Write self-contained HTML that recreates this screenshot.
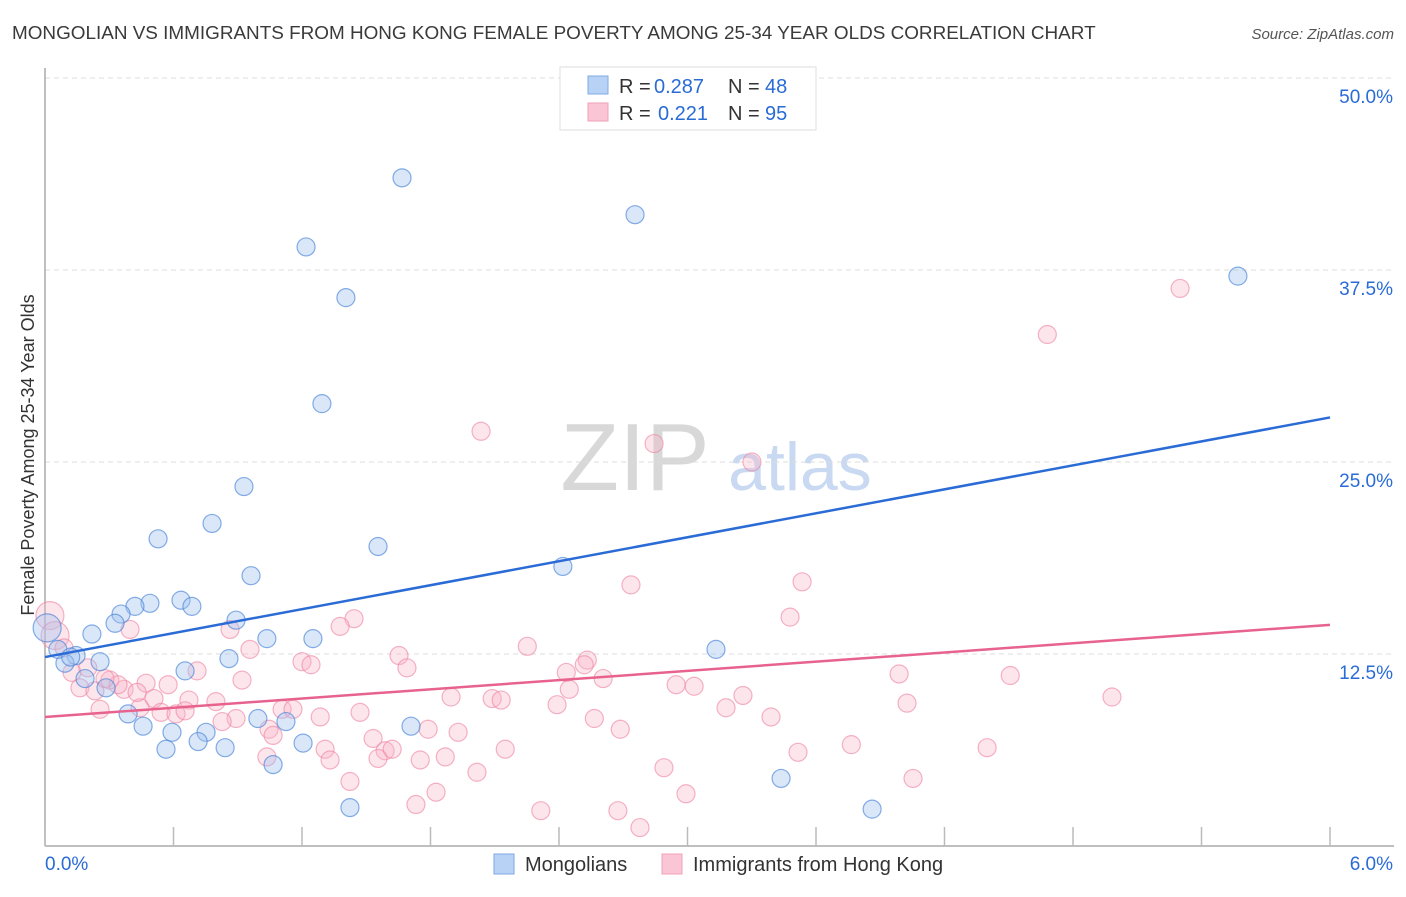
<!DOCTYPE html>
<html><head><meta charset="utf-8"><style>
body{margin:0;background:#fff;font-family:"Liberation Sans",sans-serif;}
svg text{font-family:"Liberation Sans",sans-serif;}
</style></head><body>
<svg id="chart" width="1406" height="892" xmlns="http://www.w3.org/2000/svg">
<text x="12" y="39" font-size="18.9" fill="#3a3a3a">MONGOLIAN VS IMMIGRANTS FROM HONG KONG FEMALE POVERTY AMONG 25-34 YEAR OLDS CORRELATION CHART</text>
<text x="1394" y="39" font-size="15" fill="#555" text-anchor="end" font-style="italic">Source: ZipAtlas.com</text>
<g>
<text x="635" y="490" font-size="96" fill="#d8d8d8" text-anchor="middle" font-family="Liberation Serif">ZIP</text>
<text x="800" y="490" font-size="68" fill="#c9d9f2" text-anchor="middle">atlas</text>
</g>
<g id="grid"></g>
<g id="axes"></g>
<text transform="translate(34,455) rotate(-90)" font-size="18" fill="#333" text-anchor="middle">Female Poverty Among 25-34 Year Olds</text>
<g id="pts"></g>
<g id="lines"></g>
<g>
<rect x="560" y="67" width="256" height="63" fill="#fff" stroke="#ddd"/>
<rect x="588" y="76" width="20" height="18" fill="#b8d2f5" stroke="#7fa9e0"/>
<rect x="588" y="103" width="20" height="18" fill="#fac6d5" stroke="#f0a0b8"/>
<text x="619" y="93" font-size="20" fill="#333">R =</text>
<text x="654" y="93" font-size="20" fill="#2a6bd6">0.287</text>
<text x="728" y="93" font-size="20" fill="#333">N =</text>
<text x="765" y="93" font-size="20" fill="#2a6bd6">48</text>
<text x="619" y="120" font-size="20" fill="#333">R =</text>
<text x="658" y="120" font-size="20" fill="#2a6bd6">0.221</text>
<text x="728" y="120" font-size="20" fill="#333">N =</text>
<text x="765" y="120" font-size="20" fill="#2a6bd6">95</text>
</g>
<g>
<rect x="494" y="854" width="20" height="20" fill="#b8d2f5" stroke="#7fa9e0"/>
<text x="525" y="871" font-size="20" fill="#333">Mongolians</text>
<rect x="662" y="854" width="20" height="20" fill="#fac6d5" stroke="#f0a0b8"/>
<text x="693" y="871" font-size="20" fill="#333">Immigrants from Hong Kong</text>
</g>
</svg>
<script>
const blueX=[1.667,2.755,1.219,1.405,5.57,1.293,0.929,0.780,0.528,1.555,2.418,0.962,0.490,0.635,0.686,0.420,0.355,0.327,0.892,0.219,1.036,1.251,3.133,0.859,0.145,0.257,0.093,0.654,0.187,0.285,0.388,0.458,0.593,0.752,0.994,1.125,1.709,0.715,0.841,0.565,1.205,1.065,3.437,1.424,3.862,0.01,0.06,0.12];
const blueY=[43.5,41.1,39.0,35.7,37.1,28.8,23.4,21.0,20.0,19.5,18.2,17.6,15.8,16.0,15.6,15.6,15.1,14.5,14.7,13.8,13.5,13.5,12.8,12.2,12.4,12.0,11.9,11.4,10.9,10.3,8.6,7.8,7.4,7.4,8.3,8.1,7.8,6.8,6.4,6.3,6.7,5.3,4.4,2.5,2.4,14.2,12.8,12.3];
const pinkX=[5.30,4.68,2.036,2.844,3.301,2.736,3.535,3.479,1.443,1.378,0.864,0.397,2.252,1.653,2.532,2.518,1.690,1.200,1.242,2.434,0.957,0.710,3.988,4.507,0.920,0.472,0.575,0.303,0.126,0.163,0.233,0.369,0.341,2.606,2.947,3.031,2.448,1.896,2.088,2.130,0.672,0.509,0.798,3.259,2.391,3.180,4.025,4.982,0.257,0.444,0.542,0.612,0.654,1.107,1.158,0.892,0.827,1.285,1.471,2.565,3.390,1.046,1.065,1.789,1.929,2.686,1.532,1.308,1.588,1.621,2.149,3.765,4.399,3.516,1.036,1.331,1.555,1.752,1.869,2.017,2.890,1.424,4.053,1.826,2.993,1.732,2.315,2.675,2.778,0.023,0.047,0.089,0.20,0.28,0.43];
const pinkY=[36.3,33.3,27.0,26.2,25.0,17.0,17.2,14.9,14.8,14.3,14.1,14.1,13.0,12.4,12.1,11.8,11.6,12.0,11.8,11.3,12.8,11.4,11.2,11.1,10.8,10.6,10.5,10.8,11.3,10.3,10.1,10.2,10.5,10.9,10.5,10.4,10.2,9.7,9.6,9.5,9.5,9.6,9.4,9.8,9.2,9.0,9.3,9.7,8.9,9.0,8.7,8.6,8.8,8.9,8.9,8.3,8.1,8.4,8.7,8.3,8.4,7.6,7.2,7.6,7.4,7.6,7.0,6.3,6.2,6.3,6.3,6.6,6.4,6.1,5.8,5.6,5.7,5.6,5.8,4.8,5.1,4.2,4.4,3.5,3.4,2.7,2.3,2.3,1.2,15.0,13.7,12.9,11.6,10.9,10.0];
const blueLine=[12.3,27.9];
const pinkLine=[8.4,14.4];
const yTicks=[12.5,25.0,37.5,50.0];
const xTickLabels=["0.0%","6.0%"];
const NS="http://www.w3.org/2000/svg";
const X0=45,X1=1330,Y0=846,Y50=78;
const sx=v=>X0+(v/6)*(X1-X0);
const sy=v=>Y0-(v/50)*(Y0-Y50);
function mk(tag,attrs,parent){const e=document.createElementNS(NS,tag);for(const k in attrs)e.setAttribute(k,attrs[k]);parent.appendChild(e);return e;}
const grid=document.getElementById('grid'),axes=document.getElementById('axes');
yTicks.forEach(t=>{
 const l=mk('line',{x1:X0,x2:1394,y1:sy(t),y2:sy(t),stroke:'#ddd','stroke-dasharray':'5,4'},grid);
 
 
 const tx=mk('text',{x:1393,y:sy(t)+25,'font-size':19,fill:'#2a6bd6','text-anchor':'end'},axes);
 tx.textContent=t.toFixed(1)+'%';
 
 
});
mk('line',{x1:X0,x2:X0,y1:68,y2:Y0,stroke:'#aaa','stroke-width':1.5},axes);
mk('line',{x1:X0,x2:1394,y1:Y0,y2:Y0,stroke:'#aaa','stroke-width':1.5},axes);
for(let i=0;i<=10;i++){
 const t=mk('line',{x1:sx(i*0.6),x2:sx(i*0.6),y1:Y0-19,y2:Y0,stroke:'#bbb','stroke-width':1.5},axes);
 
 
}
const xl0=mk('text',{x:45,y:870,'font-size':19,fill:'#2a6bd6'},axes);xl0.textContent=xTickLabels[0];


const xl1=mk('text',{x:1393,y:870,'font-size':19,fill:'#2a6bd6','text-anchor':'end'},axes);xl1.textContent=xTickLabels[1];


const pts=document.getElementById('pts');


function draw(xs,ys,fill,stroke,name){
 xs.forEach((x,i)=>{
  const r=(x<0.06)?14:9;
  const c=mk('circle',{cx:sx(x),cy:sy(ys[i]),r:r,fill:fill,stroke:stroke,'stroke-width':1.2},pts);
  
  
 });
}
draw(pinkX,pinkY,'rgba(248,180,200,0.35)','rgba(236,130,160,0.6)','hong-kong-point');
draw(blueX,blueY,'rgba(160,196,240,0.4)','rgba(70,130,215,0.65)','mongolian-point');
const lines=document.getElementById('lines');
const bl=mk('line',{x1:sx(0),y1:sy(blueLine[0]),x2:sx(6),y2:sy(blueLine[1]),stroke:'#2a6bd6','stroke-width':2.5},lines);


const pl=mk('line',{x1:sx(0),y1:sy(pinkLine[0]),x2:sx(6),y2:sy(pinkLine[1]),stroke:'#e8628e','stroke-width':2.5},lines);


</script>
</body></html>
